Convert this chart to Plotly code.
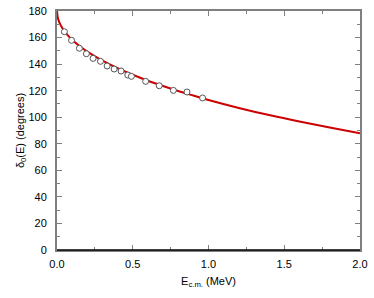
import plotly.graph_objects as go

# experimental phase shifts (open circles)
data_E = [0.049, 0.096, 0.148, 0.194, 0.238, 0.287, 0.331, 0.377, 0.423, 0.467,
          0.491, 0.585, 0.675, 0.768, 0.858, 0.961]
data_delta = [164.4, 157.9, 151.9, 147.8, 144.3, 142.1, 138.6, 136.3, 134.8, 131.8,
              130.8, 127.0, 123.7, 120.2, 119.0, 114.5]

# theory curve (red line)
curve_E = [0.0, 0.005, 0.01, 0.02, 0.04, 0.07, 0.1, 0.15, 0.2, 0.3, 0.4, 0.5, 0.6,
           0.7, 0.8, 0.9, 1.0, 1.2, 1.4, 1.6, 1.8, 2.0]
curve_delta = [180.0, 175.1, 173.1, 170.3, 166.2, 161.8, 158.3, 153.4, 149.4, 142.6,
               136.9, 132.0, 127.5, 123.5, 119.7, 116.3, 113.0, 107.0, 101.6, 96.7,
               92.2, 87.9]

x_ticks = [0.0, 0.5, 1.0, 1.5, 2.0]
x_ticklabels = ["0.0", "0.5", "1.0", "1.5", "2.0"]
y_ticks = [0, 20, 40, 60, 80, 100, 120, 140, 160, 180]

FONT = "Liberation Sans, Arial, sans-serif"
GRAY = "#7f7f7f"

fig = go.Figure()
fig.add_trace(go.Scatter(x=curve_E, y=curve_delta, mode="lines",
                         line=dict(color="#cc0000", width=2, shape="spline"),
                         showlegend=False, hoverinfo="skip"))
fig.add_trace(go.Scatter(x=data_E, y=data_delta, mode="markers",
                         marker=dict(symbol="circle", size=6, color="white",
                                     line=dict(color="#555555", width=1)),
                         showlegend=False))

fig.update_layout(
    width=374, height=298,
    margin=dict(l=57, r=14, t=11, b=48),
    paper_bgcolor="white", plot_bgcolor="white",
    font=dict(family=FONT, size=11, color="black"),
    xaxis=dict(range=[0, 2.0], tickvals=x_ticks, ticktext=x_ticklabels,
               ticks="inside", ticklen=5, tickcolor=GRAY, tickwidth=1,
               minor=dict(dtick=0.25, ticks="inside", ticklen=3, tickcolor=GRAY),
               showline=True, linecolor=GRAY, linewidth=2, mirror="allticks",
               showgrid=False, zeroline=False, automargin=False,
               ticklabelstandoff=3,
               title=dict(text="E<sub>c.m.</sub> (MeV)", font=dict(size=11), standoff=8)),
    yaxis=dict(range=[0, 180], tickvals=y_ticks,
               ticks="inside", ticklen=5, tickcolor=GRAY, tickwidth=1,
               minor=dict(dtick=10, ticks="inside", ticklen=3, tickcolor=GRAY),
               showline=True, linecolor=GRAY, linewidth=2, mirror="allticks",
               showgrid=False, zeroline=False, automargin=False,
               ticklabelstandoff=6,
               title=dict(text="δ<sub>0</sub>(E) (degrees)", font=dict(size=11), standoff=1)),
)
# black bottom axis line
fig.add_shape(type="line", xref="paper", yref="paper", x0=0, x1=1, y0=0, y1=0,
              line=dict(color="black", width=1.5))

fig.write_html("out.html", config={"displayModeBar": False},
               post_script="document.body.style.margin='0px';document.body.style.overflow='hidden';")
